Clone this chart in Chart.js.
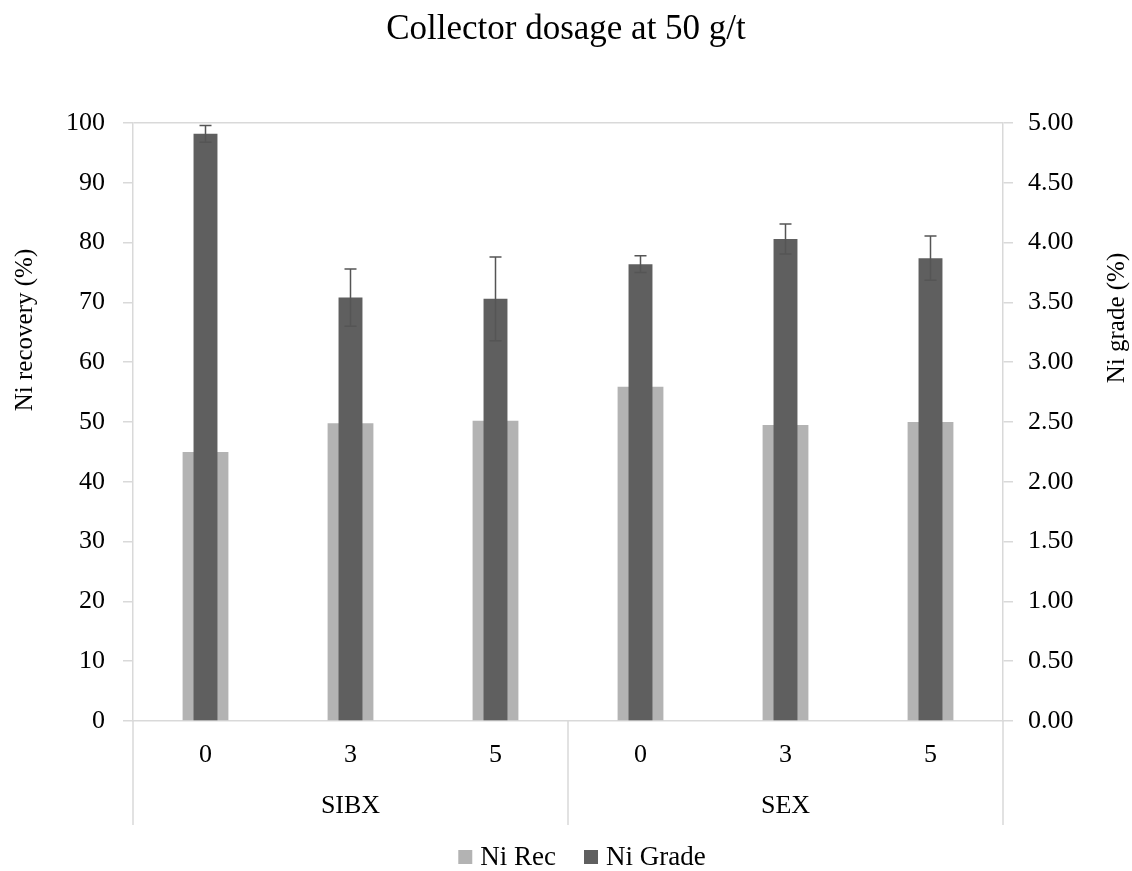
<!DOCTYPE html>
<html>
<head>
<meta charset="utf-8">
<script src="https://cdn.jsdelivr.net/npm/chart.js@4.4.1/dist/chart.umd.min.js"></script>
<style>
  html, body { margin: 0; padding: 0; background: #fff; }
</style>
</head>
<body>
<canvas id="grafico" width="1132" height="871"></canvas>
<script>
const dosages = ['0', '3', '5', '0', '3', '5'];
const groups = ['SIBX', 'SEX'];
const niRec = [45.0, 49.8, 50.2, 55.9, 49.5, 50.0];
const niGrade = [4.91, 3.54, 3.53, 3.82, 4.03, 3.87];
const niGradeErr = [0.07, 0.24, 0.35, 0.07, 0.125, 0.185];
const recTicks = [0, 10, 20, 30, 40, 50, 60, 70, 80, 90, 100];
const gradeTicks = [0, 0.5, 1, 1.5, 2, 2.5, 3, 3.5, 4, 4.5, 5];

const serif = 'Liberation Serif';
const lineGray = '#d9d9d9';

// barras de error para Ni Grade
const errorBars = {
  id: 'errorBars',
  afterDatasetsDraw(chart) {
    const meta = chart.getDatasetMeta(1);
    const y1 = chart.scales.y1;
    const c = chart.ctx;
    c.save();
    c.strokeStyle = '#555555';
    c.lineWidth = 1.5;
    meta.data.forEach((bar, i) => {
      const top = y1.getPixelForValue(niGrade[i] + niGradeErr[i]);
      const bot = y1.getPixelForValue(niGrade[i] - niGradeErr[i]);
      c.beginPath();
      c.moveTo(bar.x, top); c.lineTo(bar.x, bot);
      c.moveTo(bar.x - 6, top); c.lineTo(bar.x + 6, top);
      c.moveTo(bar.x - 6, bot); c.lineTo(bar.x + 6, bot);
      c.stroke();
    });
    c.restore();
  }
};

// etiquetas de grupo, separadores, titulos de ejes y leyenda
const extras = {
  id: 'extras',
  afterDraw(chart) {
    const c = chart.ctx;
    const x = chart.scales.x;
    const area = chart.chartArea;
    const bottom = area.bottom + 104;
    const per = dosages.length / groups.length;
    c.save();
    c.strokeStyle = lineGray;
    c.lineWidth = 1.5;
    for (let g = 0; g <= groups.length; g++) {
      let px;
      if (g === 0) px = area.left;
      else if (g === groups.length) px = area.right;
      else px = (x.getPixelForValue(g * per - 1) + x.getPixelForValue(g * per)) / 2;
      c.beginPath();
      c.moveTo(px, area.bottom);
      c.lineTo(px, bottom);
      c.stroke();
    }
    c.fillStyle = '#000';
    c.font = '26px "' + serif + '"';
    c.textAlign = 'center';
    c.textBaseline = 'middle';
    groups.forEach((name, g) => {
      const a = x.getPixelForValue(g * per);
      const b = x.getPixelForValue(g * per + per - 1);
      c.fillText(name, (a + b) / 2, 806);
    });

    // leyenda
    c.font = '27px "' + serif + '"';
    const ds = chart.data.datasets;
    const box = 14, gapText = 8, gapItem = 28;
    const widths = ds.map(d => box + gapText + c.measureText(d.label).width);
    const total = widths.reduce((s, w) => s + w, 0) + gapItem * (ds.length - 1);
    let lx = 582 - total / 2;
    const ly = 857;
    c.textAlign = 'left';
    ds.forEach((d, i) => {
      c.fillStyle = d.backgroundColor;
      c.fillRect(lx, ly - box / 2, box, box);
      c.fillStyle = '#000';
      c.fillText(d.label, lx + box + gapText, ly + 1);
      lx += widths[i] + gapItem;
    });

    c.textAlign = 'center';
    c.font = '25px "' + serif + '"';
    c.save();
    c.translate(25, 330);
    c.rotate(-Math.PI / 2);
    c.fillText('Ni recovery (%)', 0, 0);
    c.restore();
    c.save();
    c.translate(1117, 318);
    c.rotate(-Math.PI / 2);
    c.fillText('Ni grade (%)', 0, 0);
    c.restore();
    c.restore();
  }
};

const ctx = document.getElementById('grafico').getContext('2d');
const grafico = new Chart(ctx, {
  type: 'bar',
  data: {
    labels: dosages,
    datasets: [{
      label: 'Ni Rec',
      data: niRec,
      backgroundColor: '#b3b3b3',
      yAxisID: 'y',
      order: 2,
      grouped: false,
      categoryPercentage: 1,
      barPercentage: 0.316
    }, {
      label: 'Ni Grade',
      data: niGrade,
      backgroundColor: '#5f5f5f',
      yAxisID: 'y1',
      order: 1,
      grouped: false,
      categoryPercentage: 1,
      barPercentage: 0.165
    }]
  },
  options: {
    responsive: false,
    animation: false,
    layout: { padding: { left: 0, right: 0, bottom: 46 } },
    plugins: {
      title: {
        display: true,
        text: 'Collector dosage at 50 g/t',
        color: '#000',
        font: { family: serif, size: 35, weight: 'normal' },
        padding: { top: 9, bottom: 72 }
      },
      legend: { display: false },
      tooltip: { enabled: false }
    },
    scales: {
      x: {
        grid: { display: true, drawOnChartArea: false, drawTicks: false, color: 'transparent' },
        border: { color: lineGray, width: 1.5 },
        ticks: { color: '#000', font: { family: serif, size: 26 }, padding: 19 },
        afterFit(s) { s.height = 104; }
      },
      y: {
        position: 'left',
        min: 0,
        max: 100,
        afterBuildTicks(s) { s.ticks = recTicks.map(v => ({ value: v })); },
        grid: {
          color: (c) => c.tick && c.tick.value === 100 ? lineGray : 'transparent',
          tickColor: lineGray,
          tickLength: 10,
          lineWidth: 1.5
        },
        border: { color: lineGray, width: 1.5 },
        ticks: { color: '#000', font: { family: serif, size: 26 }, padding: 18 },
        afterFit(s) { s.width = 133; }
      },
      y1: {
        position: 'right',
        min: 0,
        max: 5,
        afterBuildTicks(s) { s.ticks = gradeTicks.map(v => ({ value: v })); },
        grid: { drawOnChartArea: false, color: lineGray, tickLength: 10, lineWidth: 1.5 },
        border: { color: lineGray, width: 1.5 },
        ticks: {
          color: '#000',
          font: { family: serif, size: 26 },
          padding: 15,
          callback: (v) => Number(v).toFixed(2)
        },
        afterFit(s) { s.width = 129; }
      }
    }
  },
  plugins: [errorBars, extras]
});
</script>
</body>
</html>
